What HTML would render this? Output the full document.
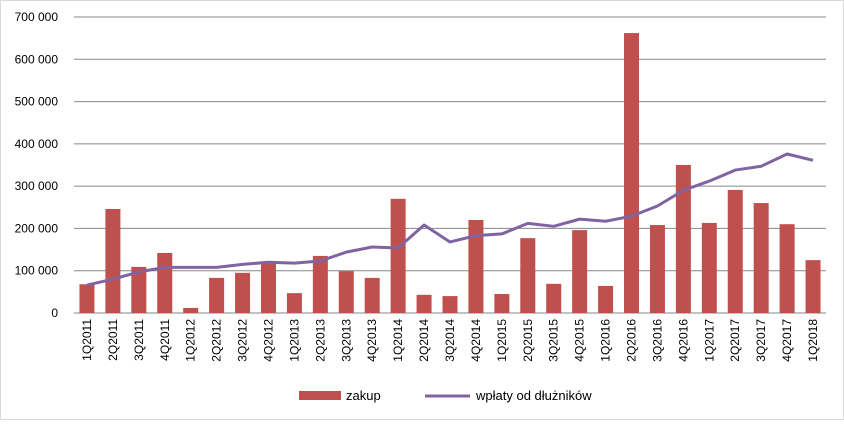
<!DOCTYPE html>
<html><head><meta charset="utf-8"><style>
body{margin:0;background:#fff;font-family:"Liberation Sans",sans-serif}
</style></head><body>
<svg id="chart" width="844" height="420" xmlns="http://www.w3.org/2000/svg">
<rect x="0.5" y="0.5" width="843" height="419" fill="#fff" stroke="#d9d9d9"/>
<g id="grid"></g><g id="bars"></g><g id="line"></g><g id="labels"></g>
<g>
<rect x="299" y="391" width="42" height="9" fill="#c0504d"/>
<text x="346" y="400" font-size="13" fill="#000">zakup</text>
<line x1="425" y1="396" x2="470" y2="396" stroke="#8064a2" stroke-width="3"/>
<text x="476" y="400" font-size="13" fill="#000">wpłaty od dłużników</text>
</g>
</svg>
<script>
const categories=["1Q2011","2Q2011","3Q2011","4Q2011","1Q2012","2Q2012","3Q2012","4Q2012","1Q2013","2Q2013","3Q2013","4Q2013","1Q2014","2Q2014","3Q2014","4Q2014","1Q2015","2Q2015","3Q2015","4Q2015","1Q2016","2Q2016","3Q2016","4Q2016","1Q2017","2Q2017","3Q2017","4Q2017","1Q2018"];
const zakup=[68000,246000,109000,142000,12000,83000,95000,118000,47000,135000,99000,83000,270000,43000,40000,220000,45000,177000,69000,196000,64000,662000,208000,350000,213000,291000,260000,210000,125000];
const wplaty=[66000,80000,97000,108000,108000,108000,115000,120000,118000,123000,144000,156000,154000,208000,168000,183000,187000,212000,205000,222000,217000,229000,253000,290000,312000,338000,347000,376000,361000];
const yTicks=[0,100000,200000,300000,400000,500000,600000,700000];
const yTickLabels=["0","100 000","200 000","300 000","400 000","500 000","600 000","700 000"];
const NS="http://www.w3.org/2000/svg";
const x0=74,x1=826,y0=313,yTop=17,yMax=700000;
const step=(x1-x0)/categories.length;
const xC=i=>x0+step*(i+0.5);
const yS=v=>y0-(v/yMax)*(y0-yTop);
function mk(t,a,p){const e=document.createElementNS(NS,t);for(const k in a)e.setAttribute(k,a[k]);p.appendChild(e);return e;}
const grid=document.getElementById('grid'),bars=document.getElementById('bars'),line=document.getElementById('line'),labels=document.getElementById('labels');
yTicks.forEach((v,i)=>{
 const l=mk('line',{x1:x0,x2:x1,y1:yS(v),y2:yS(v),stroke:i==0?'#868686':'#878787','stroke-width':1},grid);
 
 
 const t=mk('text',{x:x0-16,y:yS(v)+4,'font-size':12,'text-anchor':'end',fill:'#000'},labels);
 t.textContent=yTickLabels[i];
 
 
});
categories.forEach((c,i)=>{
 const b=mk('rect',{x:xC(i)-7.5,y:yS(zakup[i]),width:15,height:y0-yS(zakup[i]),fill:'#c0504d'},bars);
 
 
 const t=mk('text',{transform:`translate(${xC(i)+4},${y0+6}) rotate(-90)`,'font-size':12,'text-anchor':'end',fill:'#000'},labels);
 t.textContent=c;
 
 
});
const p=mk('polyline',{points:wplaty.map((v,i)=>xC(i)+','+yS(v)).join(' '),fill:'none',stroke:'#8064a2','stroke-width':3,'stroke-linejoin':'round'},line);


</script>
</body></html>
